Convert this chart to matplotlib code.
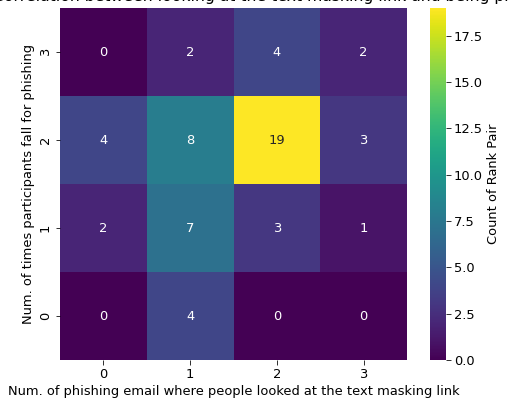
import numpy as np
import matplotlib
matplotlib.use("Agg")
import matplotlib.pyplot as plt
import seaborn as sns

x_labels = ["0", "1", "2", "3"]
y_labels = ["3", "2", "1", "0"]
counts = [
    [0, 2, 4, 2],
    [4, 8, 19, 3],
    [2, 7, 3, 1],
    [0, 4, 0, 0],
]
title = "Correlation between looking at the text masking link and being phished"

FS = 13
fig = plt.figure(figsize=(509/72, 401/72), dpi=72)
ax = fig.add_axes([60/509, 1 - 360/401, 347/509, 352/401])
cax = fig.add_axes([430/509, 1 - 360/401, 16/509, 352/401])

sns.heatmap(np.array(counts), annot=True, fmt="d", cmap="viridis",
            xticklabels=x_labels, yticklabels=y_labels, ax=ax, cbar_ax=cax,
            cbar_kws={"label": "Count of Rank Pair"}, annot_kws={"fontsize": FS})
ax.set_xlabel("Num. of phishing email where people looked at the text masking link", fontsize=FS)
ax.set_ylabel("Num. of times participants fall for phishing", fontsize=FS)
ax.tick_params(labelsize=FS, length=4.5)
cax.tick_params(labelsize=FS, length=4.5)
cax.yaxis.label.set_size(FS)
fig.text(-7/509, 1 - 0.5/401, title, ha="left", va="baseline", fontsize=15.6)

fig.savefig("out.png", dpi=72)
